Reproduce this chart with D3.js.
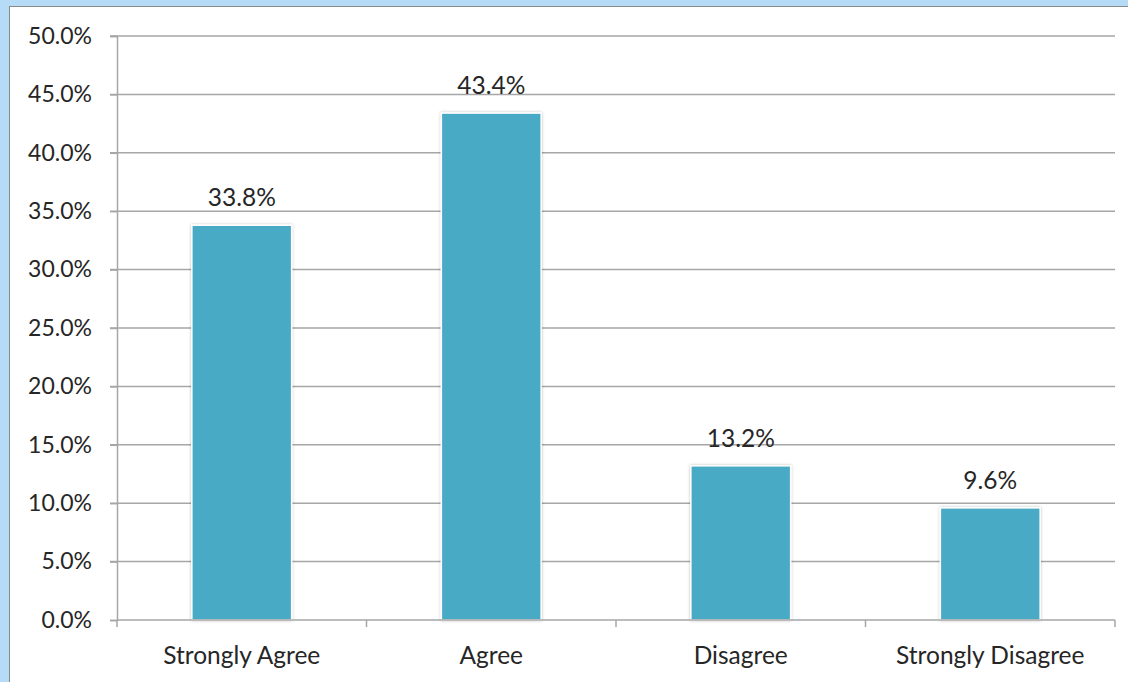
<!DOCTYPE html>
<html>
<head>
<meta charset="utf-8">
<script src="https://cdn.jsdelivr.net/npm/d3@7"></script>
<style>
  html, body { margin: 0; padding: 0; background: #fff; }
  svg { display: block; }
  text { font-family: Lato, "Noto Sans", sans-serif; fill: #262626; }
</style>
</head>
<body>
<svg id="chart" width="1128" height="682"></svg>
<script>
const categories = ["Strongly Agree", "Agree", "Disagree", "Strongly Disagree"];
const values = [33.8, 43.4, 13.2, 9.6];
const yTicks = [0, 5, 10, 15, 20, 25, 30, 35, 40, 45, 50];

const W = 1128, H = 682;
const margin = { left: 117, right: 13, top: 36, bottom: 62 };
const svg = d3.select("#chart");

// frame
svg.append("rect").attr("x", 0).attr("y", 0).attr("width", W).attr("height", H).attr("fill", "#b5dbf7");
svg.append("rect").attr("x", 9.5).attr("y", 6.5).attr("width", W).attr("height", H).attr("fill", "#fff")
  .attr("stroke", "#8a8a8a").attr("stroke-width", 1);

const x = d3.scaleBand().domain(categories).range([margin.left, W - margin.right])
  .paddingInner(0.6).paddingOuter(0.3);
const y = d3.scaleLinear().domain([0, 50]).range([H - margin.bottom, margin.top]);

const gridColor = "#a6a6a6";

// gridlines
svg.append("g").selectAll("line").data(yTicks.filter(d => d > 0)).join("line")
  .attr("x1", margin.left - 7).attr("x2", W - margin.right)
  .attr("y1", d => y(d)).attr("y2", d => y(d))
  .attr("stroke", gridColor).attr("stroke-width", 1.5);

// y axis
const yAxis = d3.axisLeft(y).tickValues(yTicks).tickFormat(d => d.toFixed(1) + "%").tickSize(7).tickPadding(18);
const gy = svg.append("g").attr("transform", `translate(${margin.left},0)`).call(yAxis);
gy.select(".domain").attr("stroke", gridColor).attr("stroke-width", 1.5);
gy.selectAll(".tick line").attr("stroke", gridColor).attr("stroke-width", 1.5);
gy.selectAll("text").style("font-size", "23px").attr("fill", "#262626").attr("font-family", null);

// bars with shadow
const defs = svg.append("defs");
const f = defs.append("filter").attr("id", "sh").attr("x", "-10%").attr("y", "-10%").attr("width", "120%").attr("height", "120%");
f.append("feDropShadow").attr("dx", 0).attr("dy", 0).attr("stdDeviation", 1.5).attr("flood-color", "#000").attr("flood-opacity", 0.25);

svg.append("g").selectAll("rect").data(values).join("rect")
  .attr("x", (d, i) => x(categories[i]))
  .attr("y", d => y(d))
  .attr("width", x.bandwidth())
  .attr("height", d => y(0) - y(d))
  .attr("fill", "#4aaac5")
  .attr("stroke", "#fff").attr("stroke-width", 1.5)
  .attr("filter", "url(#sh)");

// x axis
const xAxisG = svg.append("g").attr("transform", `translate(0,${y(0)})`);
xAxisG.append("line").attr("x1", margin.left).attr("x2", W - margin.right).attr("y1", 0).attr("y2", 0)
  .attr("stroke", gridColor).attr("stroke-width", 1.5);
const boundaries = categories.map(c => x(c) - (x.step() - x.bandwidth()) / 2);
boundaries.push(W - margin.right);
boundaries[0] = margin.left;
xAxisG.selectAll("line.t").data(boundaries).join("line").attr("class", "t")
  .attr("x1", d => d).attr("x2", d => d).attr("y1", 0).attr("y2", 7)
  .attr("stroke", gridColor).attr("stroke-width", 1.5);
xAxisG.selectAll("text").data(categories).join("text")
  .attr("x", d => x(d) + x.bandwidth() / 2).attr("y", 44)
  .attr("text-anchor", "middle").style("font-size", "24.5px")
  .text(d => d);

// data labels
svg.append("g").selectAll("text").data(values).join("text")
  .attr("x", (d, i) => x(categories[i]) + x.bandwidth() / 2)
  .attr("y", d => y(d) - 19)
  .attr("text-anchor", "middle").style("font-size", "24.5px")
  .text(d => d.toFixed(1) + "%");
</script>
</body>
</html>
